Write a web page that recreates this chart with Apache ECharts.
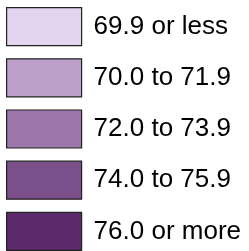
<!DOCTYPE html>
<html>
<head>
<meta charset="utf-8">
<script src="https://cdn.jsdelivr.net/npm/echarts@6/dist/echarts.min.js"></script>
<style>html,body{margin:0;padding:0;background:#fff}#c{width:249px;height:251px}</style>
</head>
<body>
<div id="c"></div>
<script>
const labels = ['69.9 or less', '70.0 to 71.9', '72.0 to 73.9', '74.0 to 75.9', '76.0 or more'];
const colors = ['#e3d5f0', '#bca0cb', '#9c77aa', '#7a4f8a', '#5a2a6b'];

const chart = echarts.init(document.getElementById('c'), null, {renderer: 'canvas'});
chart.setOption({
  animation: false,
  legend: {
    orient: 'vertical',
    left: 6,
    top: 7,
    height: 400,
    padding: 0,
    itemWidth: 75,
    itemHeight: 38,
    itemGap: 12,
    icon: 'rect',
    selectedMode: false,
    itemStyle: {borderColor: '#222', borderWidth: 1.2},
    textStyle: {fontFamily: 'Liberation Sans, Arial, sans-serif', fontSize: 26, color: '#000', padding: [0, 0, 0, 7]},
    data: labels
  },
  xAxis: {show: false, type: 'category', data: ['a']},
  yAxis: {show: false, type: 'value'},
  grid: {show: false},
  series: labels.map((l, i) => ({
    name: l, type: 'bar', data: [], itemStyle: {color: colors[i]}
  }))
});
</script>
</body>
</html>
